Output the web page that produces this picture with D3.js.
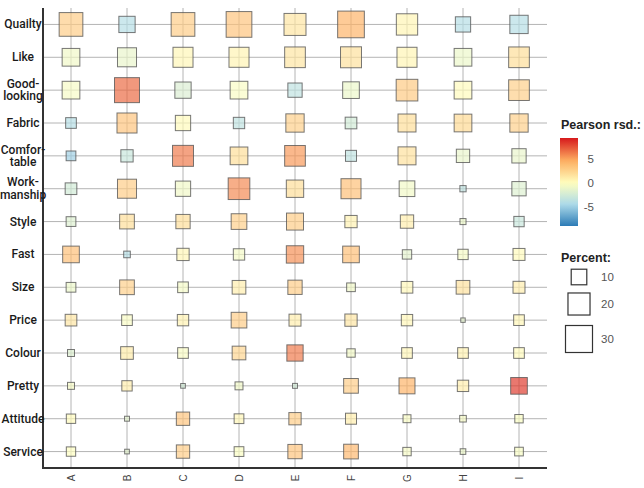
<!DOCTYPE html>
<html lang="en">
<head>
<meta charset="UTF-8">
<title>Balloon plot</title>
<script src="https://d3js.org/d3.v7.min.js"></script>
<style>
  body { margin: 0; background: #fff; }
  svg text { font-family: "Liberation Sans", Arial, sans-serif; }
  .rowlab { font-family: Roboto, "Liberation Sans", sans-serif; }
</style>
</head>
<body>
<svg id="chart" width="644" height="488"></svg>
<script>
// categories
const rows = ["Quailty", "Like", "Good-looking", "Fabric", "Comfortable", "Workmanship", "Style",
              "Fast", "Size", "Price", "Colour", "Pretty", "Attitude", "Service"];
const rowLabels = [["Quailty"], ["Like"], ["Good-", "looking"], ["Fabric"], ["Comfor-", "table"],
                   ["Work-", "manship"], ["Style"], ["Fast"], ["Size"], ["Price"], ["Colour"],
                   ["Pretty"], ["Attitude"], ["Service"]];
const cols = ["A", "B", "C", "D", "E", "F", "G", "H", "I"];

// percent (square size), one row per category
const percent = [
  [23.1, 10.9, 23.1, 27.2, 19.9, 29.3, 18.7, 9.6, 13.8],
  [12.9, 14.9, 16.5, 16.5, 17.6, 18.1, 16.5, 12.9, 17.6],
  [12.9, 25.7, 10.9, 12.9, 8.4, 11.4, 19.3, 12.9, 17.6],
  [4.7, 16.5, 9.6, 5.3, 13.8, 5.6, 13.3, 12.9, 13.8],
  [3.9, 6.2, 18.1, 12.9, 17.6, 5.0, 13.3, 7.3, 8.4],
  [5.6, 14.9, 9.6, 19.3, 12.4, 16.5, 10.1, 1.6, 8.4],
  [3.9, 8.9, 8.4, 10.1, 11.9, 6.2, 7.3, 1.5, 4.4],
  [11.4, 1.8, 6.2, 5.3, 12.4, 11.4, 3.6, 4.4, 5.9],
  [3.9, 8.9, 4.7, 7.7, 8.4, 3.1, 5.6, 7.7, 5.9],
  [5.6, 4.7, 5.3, 10.1, 5.9, 6.2, 5.3, 0.8, 4.7],
  [2.0, 6.6, 4.7, 7.7, 10.9, 2.9, 4.7, 4.7, 4.7],
  [2.0, 4.4, 0.9, 2.6, 1.0, 8.9, 10.5, 5.3, 11.4],
  [3.6, 1.0, 7.3, 3.9, 6.2, 5.0, 2.6, 1.8, 2.9],
  [3.6, 0.9, 7.3, 3.9, 8.4, 8.9, 2.9, 1.3, 3.1]
];

// Pearson residuals (colour)
const residual = [
  [3, -4, 3, 3.5, 1.5, 4.5, 0.6, -4, -4],
  [-0.8, -1.2, 0.5, 0.7, 1.5, 1.8, 0.6, -1, 2],
  [-0.5, 7, -2, -0.3, -3.5, -1, 3.2, 0.3, 2.8],
  [-4, 3.5, 0.3, -3.5, 2.8, -2.5, 2, 2.3, 2.8],
  [-5, -3, 6.5, 2, 5.5, -3.5, 1.8, -1.2, -1.2],
  [-2.5, 3, -0.8, 6, 2, 3.8, -0.7, -3.5, -1.8],
  [-1.8, 2, 2, 2.8, 3, 0.8, 1, -1, -3],
  [3.8, -4, 0.5, -0.6, 5.8, 3.8, -1.5, -0.5, 0.3],
  [-1, 2.8, -0.6, 1, 3, -0.8, 0.4, 1.8, 1],
  [1.5, -0.3, 0.8, 3, 1, 1.5, 0.5, -1.5, 0.5],
  [-1.8, 1.2, -0.3, 2.5, 6.5, -0.7, 0.5, 0.8, 0.3],
  [-0.5, 1, -2.5, -0.8, -2.5, 3, 4.5, 1, 8.5],
  [0.3, -1.5, 3.5, 0.5, 3, 1, -0.3, -0.5, -0.2],
  [0, -1.5, 3, -0.2, 3.5, 4.2, -0.5, -1, -0.4]
];

const colourTicks = [5, 0, -5];
const sizeTicks = [10, 20, 30];

const svg = d3.select("#chart");

const plotLeft = 43, plotRight = 547, plotTop = 8, plotBottom = 468;

const x = d3.scaleBand().domain(cols).range([plotLeft, plotRight]);
const y = d3.scaleBand().domain(rows).range([plotTop, plotBottom]);

const resDomain = [-9, 9.5];
const color = d3.scaleLinear()
  .domain([-9, -4.5, 0, 4.75, 9.5])
  .range(["#2c7bb6", "#abd9e9", "#ffffbf", "#fdae61", "#d7191c"])
  .clamp(true);

const side = d3.scaleSqrt().domain([0, 30]).range([0, 27]);

// grid
svg.append("g").selectAll("line")
  .data(rows).join("line")
  .attr("x1", plotLeft).attr("x2", plotRight)
  .attr("y1", d => y(d) + y.bandwidth() / 2)
  .attr("y2", d => y(d) + y.bandwidth() / 2)
  .attr("stroke", "#b4b4b4").attr("stroke-width", 1);

svg.append("g").selectAll("line")
  .data(cols).join("line")
  .attr("x1", d => x(d) + x.bandwidth() / 2)
  .attr("x2", d => x(d) + x.bandwidth() / 2)
  .attr("y1", plotTop).attr("y2", plotBottom)
  .attr("stroke", "#b4b4b4").attr("stroke-width", 1);

// cells
const cells = [];
rows.forEach((r, i) => cols.forEach((c, j) => {
  cells.push({ row: r, col: c, p: percent[i][j], v: residual[i][j] });
}));

svg.append("g").selectAll("rect")
  .data(cells).join("rect")
  .attr("x", d => x(d.col) + x.bandwidth() / 2 - side(d.p) / 2)
  .attr("y", d => y(d.row) + y.bandwidth() / 2 - side(d.p) / 2)
  .attr("width", d => side(d.p))
  .attr("height", d => side(d.p))
  .attr("fill", d => color(d.v))
  .attr("fill-opacity", 0.68)
  .attr("stroke", "#555")
  .attr("stroke-opacity", 0.8)
  .attr("stroke-width", 1);

// axes lines
svg.append("line")
  .attr("x1", plotLeft).attr("x2", plotLeft).attr("y1", plotTop).attr("y2", plotBottom + 1)
  .attr("stroke", "#333").attr("stroke-width", 2);
svg.append("line")
  .attr("x1", plotLeft).attr("x2", plotRight).attr("y1", plotBottom).attr("y2", plotBottom)
  .attr("stroke", "#333").attr("stroke-width", 2);

// y labels
rows.forEach((r, i) => {
  const lines = rowLabels[i];
  const cy = y(r) + y.bandwidth() / 2;
  const t = svg.append("text")
    .attr("class", "rowlab")
    .attr("x", 23)
    .attr("text-anchor", "middle")
    .attr("font-size", 12)
    .attr("font-weight", 500)
    .attr("fill", "#1a1a1a");
  lines.forEach((ln, k) => {
    t.append("tspan")
      .attr("x", 23)
      .attr("y", cy + 4 + (k - (lines.length - 1) / 2) * 12.5)
      .text(ln);
  });
});

// x labels
svg.append("g").selectAll("text")
  .data(cols).join("text")
  .attr("transform", d => `translate(${x(d) + x.bandwidth() / 2 + 3.5},478) rotate(-90)`)
  .attr("text-anchor", "middle")
  .attr("font-size", 10)
  .attr("fill", "#444")
  .text(d => d);

// colour legend
const defs = svg.append("defs");
const grad = defs.append("linearGradient")
  .attr("id", "resgrad").attr("x1", 0).attr("x2", 0).attr("y1", 1).attr("y2", 0);
d3.range(0, 1.0001, 0.05).forEach(t => {
  grad.append("stop")
    .attr("offset", t)
    .attr("stop-color", color(resDomain[0] + t * (resDomain[1] - resDomain[0])));
});

svg.append("text")
  .attr("x", 561).attr("y", 129)
  .attr("font-size", 12.5).attr("font-weight", 700)
  .attr("fill", "#222")
  .text("Pearson rsd.:");

const cbY = d3.scaleLinear().domain(resDomain).range([226, 138]);
svg.append("rect")
  .attr("x", 560).attr("y", cbY(resDomain[1]))
  .attr("width", 18).attr("height", cbY(resDomain[0]) - cbY(resDomain[1]))
  .attr("fill", "url(#resgrad)");

svg.append("g").selectAll("text")
  .data(colourTicks).join("text")
  .attr("x", 594).attr("y", d => cbY(d) + 4)
  .attr("text-anchor", "end")
  .attr("font-size", 11.5)
  .attr("fill", "#555")
  .text(d => d);

// size legend
svg.append("text")
  .attr("x", 561).attr("y", 262)
  .attr("font-size", 12.5).attr("font-weight", 700)
  .attr("fill", "#222")
  .text("Percent:");

const sizeY = [277, 304, 339];
sizeTicks.forEach((s, i) => {
  svg.append("rect")
    .attr("x", 579 - side(s) / 2).attr("y", sizeY[i] - side(s) / 2)
    .attr("width", side(s)).attr("height", side(s))
    .attr("fill", "none").attr("stroke", "#333").attr("stroke-width", 1.2);
  svg.append("text")
    .attr("x", 601).attr("y", sizeY[i] + 4)
    .attr("font-size", 11.5).attr("fill", "#555")
    .text(s);
});
</script>
</body>
</html>
